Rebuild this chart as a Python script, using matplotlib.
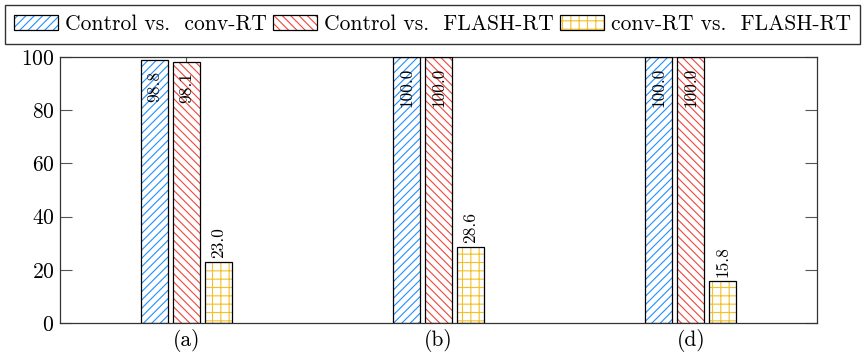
import matplotlib
matplotlib.use("Agg")
import numpy as np
from matplotlib import pyplot as plt
from matplotlib.legend_handler import HandlerTuple

plt.rcParams["font.family"] = ["cmr10", "DejaVu Serif"]
plt.rcParams["mathtext.fontset"] = "cm"
plt.rcParams["axes.formatter.use_mathtext"] = True
plt.rcParams["hatch.linewidth"] = 0.8

groups = ["(a)", "(b)", "(d)"]
series = ["Control vs.  conv-RT", "Control vs.  FLASH-RT", "conv-RT vs.  FLASH-RT"]
ctrl_conv = [98.8, 100.0, 100.0]
ctrl_flash = [98.1, 100.0, 100.0]
conv_flash = [23.0, 28.6, 15.8]

hatch_colors = ["#1f8fff", "#f0443a", "#f2c02a"]
hatches = ["////", "\\\\\\\\", "++"]

fig = plt.figure(figsize=(8.65, 3.54), dpi=100)
ax = fig.add_axes([60 / 865, 1 - 323 / 354, (817 - 60) / 865, (323 - 57) / 354])

x = np.arange(len(groups))
width = 0.107
step = 0.127

handles = []
for i, (vals, col, hatch) in enumerate(zip([ctrl_conv, ctrl_flash, conv_flash], hatch_colors, hatches)):
    pos = x + (i - 1) * step
    # hatch layer first, then a plain black outline on top
    hb = ax.bar(pos, vals, width, color="white", edgecolor=col, hatch=hatch, linewidth=0, zorder=2)
    ob = ax.bar(pos, vals, width, fill=False, edgecolor="black", linewidth=0.9, zorder=3)
    handles.append((hb.patches[0], ob.patches[0]))
    for p, v in zip(pos, vals):
        if v > 90:
            ax.annotate(f"{v:.1f}", (p, v), xytext=(0, -7.5), textcoords="offset points",
                        rotation=90, ha="center", va="top", fontsize=12.5, zorder=4)
        else:
            ax.annotate(f"{v:.1f}", (p, v), xytext=(0, 3), textcoords="offset points",
                        rotation=90, ha="center", va="bottom", fontsize=12.5, zorder=4)

ax.set_xlim(-0.5, 2.5)
ax.set_ylim(0, 100)
ax.set_xticks(x)
ax.set_xticklabels(groups)
ax.set_yticks(np.arange(0, 101, 20))
ax.tick_params(axis="both", direction="in", length=8.5, width=0.8, color="#555555",
               labelsize=15.5, top=True, right=True, pad=4)
for s in ax.spines.values():
    s.set_linewidth(0.9)
    s.set_color("#333333")

leg = fig.legend(handles, series, handler_map={tuple: HandlerTuple(ndivide=1)},
                 loc="upper center", bbox_to_anchor=(0.5, 0.986), ncol=3,
                 fontsize=15.5, frameon=True, fancybox=False, edgecolor="black",
                 handlelength=2.05, handleheight=0.7, handletextpad=0.3,
                 columnspacing=0.3, borderpad=0.45, borderaxespad=0)
leg.get_frame().set_linewidth(1.0)

fig.savefig("out.png", dpi=100)
